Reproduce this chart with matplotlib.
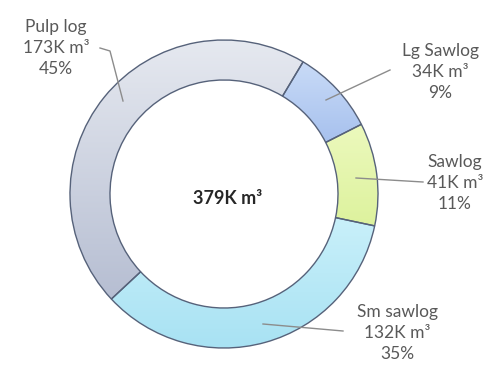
import numpy as np
import matplotlib
matplotlib.use("Agg")
import matplotlib.pyplot as plt
from matplotlib.colors import to_rgb

# Harvest volume by product class (thousand cubic metres)
categories = ["Pulp log", "Lg Sawlog", "Sawlog", "Sm sawlog"]
volumes_k = [173, 34, 41, 132]
percents = [45, 9, 11, 35]
total_k = 379

# gradient fills (top colour, bottom colour) per segment
top_colors = ["#e6e9f0", "#c9dbf7", "#ecf9bd", "#c9f0fa"]
bottom_colors = ["#b6bed2", "#a7c1ee", "#ddf29d", "#a8e2f3"]

W, H = 490, 367
fig = plt.figure(figsize=(W / 100, H / 100), dpi=100)
ax = fig.add_axes([0, 0, 1, 1])

cx, cy = 224, H - 194
r_out, ring_w = 154, 40

wedges, _ = ax.pie(
    volumes_k,
    center=(cx, cy),
    radius=r_out,
    startangle=-137,
    counterclock=False,
    colors=["none"] * len(volumes_k),
    wedgeprops=dict(width=ring_w, edgecolor="#56627a", linewidth=1.0),
)

for w, c_top, c_bot in zip(wedges, top_colors, bottom_colors):
    w.set_facecolor("none")
    w.set_zorder(3)
    ext = w.get_path().get_extents()
    t = np.linspace(0, 1, 200)[:, None, None]
    grad = (1 - t) * np.array(to_rgb(c_top)) + t * np.array(to_rgb(c_bot))
    im = ax.imshow(grad, extent=(ext.x0, ext.x1, ext.y0, ext.y1),
                   origin="upper", aspect="auto", interpolation="bilinear",
                   zorder=2)
    im.set_clip_path(w)

font = ["Lato", "DejaVu Sans"]
label_color = "#595959"
line_color = "#8c8c8c"

# label anchor positions and leader line paths (pixel coords, y from top)
label_pos = [(56, 48), (440, 72), (455, 183), (397, 333)]
leaders = [
    [(100, 48), (110, 51), (123, 101)],
    [(390, 70), (326, 100)],
    [(423, 182), (356, 178)],
    [(343, 331), (263, 324)],
]

for name, v, p, (lx, ly), path in zip(categories, volumes_k, percents,
                                      label_pos, leaders):
    ax.text(lx, H - ly, f"{name}\n{v}K m³\n{p}%", ha="center", va="center",
            fontsize=12.5, color=label_color, family=font, linespacing=1.35,
            zorder=5)
    xs = [q[0] for q in path]
    ys = [H - q[1] for q in path]
    ax.plot(xs, ys, color=line_color, lw=1.0, zorder=4)

ax.text(cx + 4, H - 199, f"{total_k}K m³", ha="center", va="center",
        fontsize=13, fontweight="bold", color="#262626", family=font, zorder=5)

ax.set_xlim(0, W)
ax.set_ylim(0, H)
ax.set_aspect("auto")
ax.axis("off")

fig.savefig("out.png", dpi=100, facecolor="white")
